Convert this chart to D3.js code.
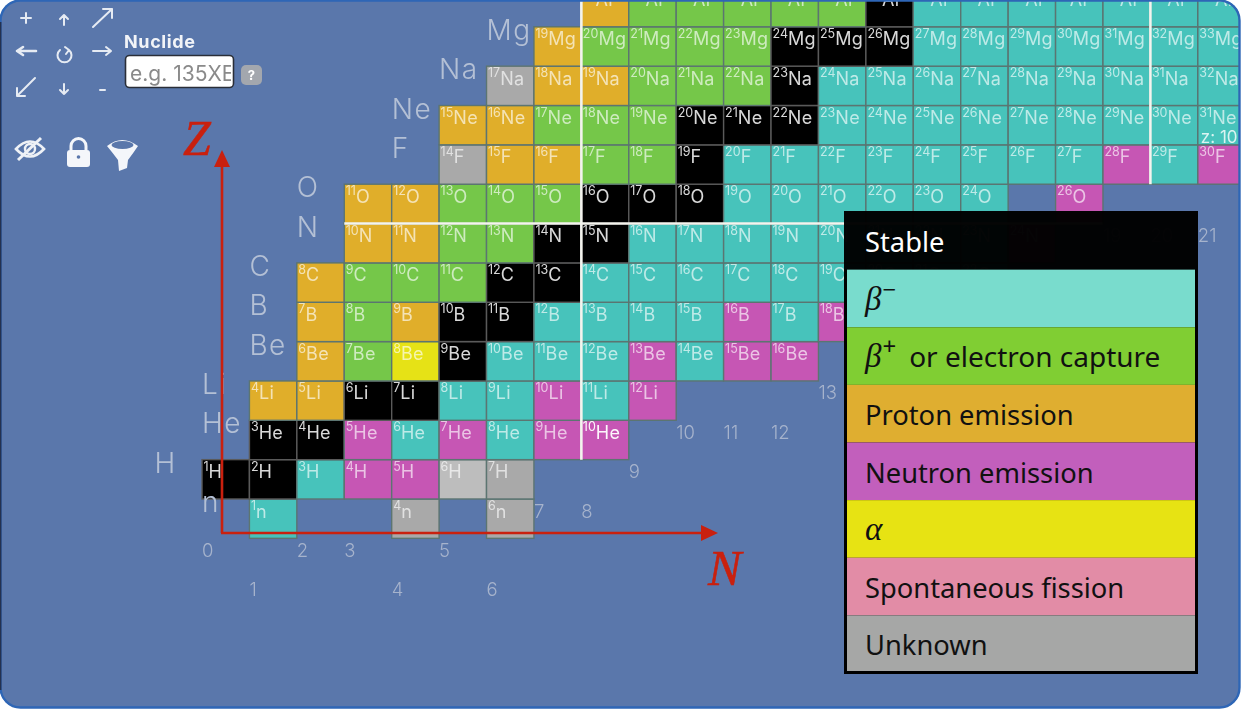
<!DOCTYPE html>
<html><head><meta charset="utf-8">
<style>html,body{margin:0;padding:0;background:#fff;overflow:hidden}svg{display:block}</style>
<script src="https://cdnjs.cloudflare.com/ajax/libs/d3/7.8.5/d3.min.js"></script>
</head><body><svg id="c" width="1246" height="713"></svg>
<script>
// Proton number Z = index in these arrays
const elementSymbols = ["n","H","He","Li","Be","B","C","N","O","F","Ne","Na","Mg","Al"];
const firstNeutron   = [1,0,1,1,2,2,2,3,3,5,5,6,7,8];
// s stable, b beta-, e beta+/EC, p proton, n neutron, a alpha, u unknown, x unknown (highlighted)
const decayN0  = ["b",null,null,"u",null,"u"];
const decayH   = ["s","s","b","n","n","x","u"];
const decayHe  = ["s","s","n","b","n","b","n","n"];
const decayLi  = ["p","p","s","s","b","b","n","b","n"];
const decayBe  = ["p","e","a","s","b","b","b","n","b","n","n"];
const decayB   = ["p","e","p","s","s","b","b","b","b","n","b","n"];
const decayC   = ["p","e","e","e","s","s","b","b","b","b","b","b","b","b","b"];
const decayNit = ["p","p","e","e","s","s","b","b","b","b","b","b","b","b","n"];
const decayO   = ["p","p","e","e","e","s","s","s","b","b","b","b","b","b",null,"n"];
const decayF   = ["u","p","p","e","e","s","b","b","b","b","b","b","b","b","n","b","n"];
const decayNe  = ["p","p","e","e","e","s","s","s","b","b","b","b","b","b","b","b","b"];
const decayNa  = ["u","p","p","e","e","e","s","b","b","b","b","b","b","b","b","b"];
const decayMg  = ["p","e","e","e","e","s","s","s","b","b","b","b","b","b","b"];
const decayAl  = ["p","e","e","e","e","e","s","b","b","b","b","b","b","b","b"];
const decayRows = [decayN0,decayH,decayHe,decayLi,decayBe,decayB,decayC,decayNit,decayO,decayF,decayNe,decayNa,decayMg,decayAl];
// Neutron-number labels and the row each one sits in
const neutronTicks    = [0,1,2,3,4,5,6,7,8,9,10,11,12,13,19,20,21];
const neutronTickRows = [-1,-2,-1,-1,-2,-1,-2,0,0,1,2,2,2,3,7,7,7];
const legendLabels = ["Stable","β","β","Proton emission","Neutron emission","α","Spontaneous fission","Unknown"];
const legendCodes  = ["s","b","e","p","n","a","f","u"];

const cellColor = {s:"#000000",b:"#46c3bb",e:"#74c749",p:"#e0ae2b",n:"#c657b4",a:"#e6e213",u:"#a9a9a9",x:"#bdbdbd"};
const legendColor = {s:"#000000",b:"#79dccd",e:"#80ce33",p:"#dfae30",n:"#c25fbc",a:"#e7e313",f:"#e28ca6",u:"#a6a7a6"};
const uiFont = "Inter, 'Open Sans', sans-serif";
const legFont = "'Noto Sans','Open Sans',sans-serif";

const svg = d3.select("#c");
const x = d3.scaleLinear().domain([0,22]).range([202,202+22*47.42]);
const y = d3.scaleLinear().domain([0,13]).range([499,499-13*39.35]);   // top edge of row Z
const cellW = x(1)-x(0), cellH = y(0)-y(1);

const defs = svg.append("defs");
defs.append("clipPath").attr("id","panel").append("rect").attr("x",0).attr("y",0).attr("width",1240).attr("height",708).attr("rx",20);
defs.append("clipPath").attr("id","inp").append("rect").attr("x",129).attr("y",56).attr("width",102).attr("height",32);
defs.append("filter").attr("id","soft").append("feGaussianBlur").attr("stdDeviation",0.5);
const mk = defs.append("marker").attr("id","arr").attr("markerUnits","userSpaceOnUse").attr("markerWidth",18).attr("markerHeight",16)
  .attr("refX",1).attr("refY",8).attr("orient","auto");
mk.append("path").attr("d","M0,0L17,8L0,16Z").attr("fill","#c9200e");

svg.append("rect").attr("width",1246).attr("height",713).attr("fill","#fff");
svg.append("rect").attr("x",0).attr("y",0).attr("width",1240).attr("height",708).attr("rx",20).attr("fill","#5a77ab");
const root = svg.append("g").attr("clip-path","url(#panel)");
const chart = root.append("g").attr("filter","url(#soft)");

const cells = [];
decayRows.forEach((row,z)=>row.forEach((d,i)=>{ if(d){const n=firstNeutron[z]+i; cells.push({z,n,d,a:z===0?n:n+z,sym:elementSymbols[z]});}}));

chart.selectAll("rect.cell").data(cells).join("rect").attr("class","cell")
  .attr("x",d=>x(d.n)).attr("y",d=>y(d.z)).attr("width",cellW).attr("height",cellH)
  .attr("fill",d=>cellColor[d.d])
  .attr("stroke",d=>d.d==="s"?"#5a5a5a":"#5b7471").attr("stroke-width",1.4);

const lab = chart.selectAll("text.nuc").data(cells).join("text").attr("class","nuc")
  .attr("x",d=>x(d.n)+1.5).attr("y",d=>y(d.z)+18.5)
  .attr("font-family",uiFont).attr("fill","#fff").attr("fill-opacity",d=>d.d==="s"?0.85:(d.z===2&&d.a===10?0.95:0.65));
lab.append("tspan").attr("font-size",12.5).attr("dy",-7.5).text(d=>d.a);
lab.append("tspan").attr("font-size",18).attr("dy",7.5).attr("letter-spacing",0.3).text(d=>d.sym);

// 'z: 10' hover note on the Ne row
chart.append("text").attr("x",x(21)+3).attr("y",y(10)+37.5).attr("font-family",uiFont).attr("font-size",17)
  .attr("fill","#fff").attr("fill-opacity",0.8).text("z: 10");

// white magic-number guides
const wl = chart.append("g").attr("stroke","#f4f4ee").attr("stroke-width",2.6);
wl.append("line").attr("x1",x(8)).attr("x2",x(8)).attr("y1",0).attr("y2",y(1));
wl.append("line").attr("x1",x(20)).attr("x2",x(20)).attr("y1",0).attr("y2",y(8));
wl.append("line").attr("x1",x(3)).attr("x2",x(18)+47).attr("y1",y(7)).attr("y2",y(7));

// element labels
chart.selectAll("text.el").data(elementSymbols.slice(0,13)).join("text").attr("class","el")
  .attr("x",(d,z)=>x(firstNeutron[z]-1)).attr("y",(d,z)=>y(z)+13)
  .attr("font-family",uiFont).attr("font-weight",300).attr("letter-spacing",1.5).attr("font-size",28).attr("fill","#b4c0d5").text(d=>d);

// neutron labels
chart.selectAll("text.nt").data(neutronTicks).join("text").attr("class","nt")
  .attr("x",d=>x(d)).attr("y",(d,i)=>y(neutronTickRows[i])+18.5)
  .attr("font-family",uiFont).attr("font-size",18.5).attr("font-weight",300).attr("fill","#a6b3cc").text(d=>d);

// Red axes
const axes = root.append("g").attr("stroke","#c9200e").attr("stroke-width",2.6).attr("fill","none");
axes.append("path").attr("d",`M222,533 L222,166`).attr("marker-end","url(#arr)");
axes.append("path").attr("d",`M221,533 L702,533`).attr("marker-end","url(#arr)");
root.append("text").attr("x",183).attr("y",155).attr("font-family","'Liberation Serif',serif").attr("font-style","italic").attr("font-size",50).attr("stroke","#c9200e").attr("stroke-width",0.6).attr("fill","#c9200e").text("Z");
root.append("text").attr("x",708).attr("y",585).attr("font-family","'Liberation Serif',serif").attr("font-style","italic").attr("font-size",50).attr("stroke","#c9200e").attr("stroke-width",0.6).attr("fill","#c9200e").text("N");

// Toolbar
const tb = chart.append("g").attr("stroke","#e6ebf3").attr("stroke-width",2).attr("fill","none").attr("stroke-linecap","round").attr("stroke-linejoin","round");
const P = d=>tb.append("path").attr("d",d);
P("M21,18H31M26,13V23");
P("M64,25V15M60,19L64,15L68,19");
P("M93,27L112,9M103,9H112V18");
P("M17,51H36M17,51L23,47M17,51L23,55").attr("stroke-width",2.6);
P("M93,51H111M111,51L106,47M111,51L106,55");
P("M60,50A7,7 0 1 0 69,50M65,47L69,50L66,54");
P("M35,78L17,96M17,88V96H25");
P("M64,84V94M60,90L64,94L68,90");
P("M100,90H105");

chart.append("text").attr("x",124).attr("y",48).attr("font-family",uiFont).attr("font-weight",700).attr("font-size",18).attr("letter-spacing",0.6).attr("fill","#f2f4f8").text("Nuclide");
chart.append("rect").attr("x",125.5).attr("y",55.5).attr("width",108).attr("height",32).attr("rx",4).attr("fill","#fff").attr("stroke","#2b2f38").attr("stroke-width",1.6);
chart.append("g").attr("clip-path","url(#inp)").append("text").attr("x",130).attr("y",81).attr("font-family",uiFont).attr("font-size",21).attr("fill","#8a8a8a").text("e.g. 135XE");
chart.append("rect").attr("x",241).attr("y",65).attr("width",21).attr("height",20).attr("rx",5).attr("fill","#a3a7ae");
chart.append("text").attr("x",251.5).attr("y",80).attr("text-anchor","middle").attr("font-family",uiFont).attr("font-weight",700).attr("font-size",13).attr("fill","#fff").text("?");

// Eye, lock, funnel
const ic = chart.append("g");
ic.append("path").attr("d","M16,149Q30,134 44,149Q30,164 16,149Z").attr("fill","none").attr("stroke","#eef1f6").attr("stroke-width",2.6);
ic.append("circle").attr("cx",30).attr("cy",149).attr("r",5).attr("fill","none").attr("stroke","#eef1f6").attr("stroke-width",2.4);
ic.append("path").attr("d","M18,160L41,138").attr("stroke","#eef1f6").attr("stroke-width",3);
ic.append("path").attr("d","M71,150V146A7.5,7.5 0 0 1 86,146V150").attr("fill","none").attr("stroke","#f4f6fa").attr("stroke-width",3);
ic.append("rect").attr("x",67).attr("y",150).attr("width",23).attr("height",17).attr("rx",3).attr("fill","#f4f6fa");
ic.append("circle").attr("cx",78.5).attr("cy",157).attr("r",1.8).attr("fill","#5a77ab");
ic.append("path").attr("d","M107,146Q122,134 138,146Q134,152 128,160L127,168L119,171L118,160Q112,152 107,146Z").attr("fill","#f4f6fa");
ic.append("ellipse").attr("cx",122.5).attr("cy",145).attr("rx",11).attr("ry",4).attr("fill","#5a77ab");

// Legend
const ly = d3.scaleLinear().domain([0,8]).range([212,673]);
const leg = root.append("g");
leg.append("rect").attr("x",844).attr("y",211).attr("width",354).attr("height",59).attr("fill","#000").attr("fill-opacity",0.975);
leg.append("rect").attr("x",844).attr("y",270).attr("width",354).attr("height",404).attr("fill","#000");
leg.selectAll("rect.lr").data(legendCodes.slice(1)).join("rect").attr("class","lr")
  .attr("x",847).attr("width",348).attr("y",(d,i)=>ly(i+1)).attr("height",(d,i)=>ly(i+2)-ly(i+1)-(i===6?2:0))
  .attr("fill",d=>legendColor[d]);
const lt = leg.selectAll("text.lt").data(legendLabels).join("text").attr("class","lt")
  .attr("x",865).attr("y",(d,i)=>ly(i)+40).attr("font-family",legFont).attr("font-size",27.3)
  .attr("fill",(d,i)=>i===0?"#fff":"#111");
lt.each(function(d,i){
  const t=d3.select(this);
  if(d==="β"||d==="α"){
    t.append("tspan").attr("font-family","'Liberation Serif',serif").attr("font-style","italic").attr("font-size",33).text(d);
    if(d==="β"){
      t.append("tspan").attr("font-size",24).attr("dy",-12).attr("dx",1).text(i===1?"−":"+");
      if(i===2) t.append("tspan").attr("dy",12).attr("dx",13).attr("font-size",28).text("or electron capture");
    }
  } else t.text(d);
});

// Panel border on top
svg.append("rect").attr("x",0.5).attr("y",0.5).attr("width",1239).attr("height",707).attr("rx",20).attr("fill","none").attr("stroke","#2e66b6").attr("stroke-width",2.4);
svg.append("line").attr("x1",0.7).attr("x2",0.7).attr("y1",22).attr("y2",690).attr("stroke","#24314f").attr("stroke-width",1.4);
</script></body></html>
